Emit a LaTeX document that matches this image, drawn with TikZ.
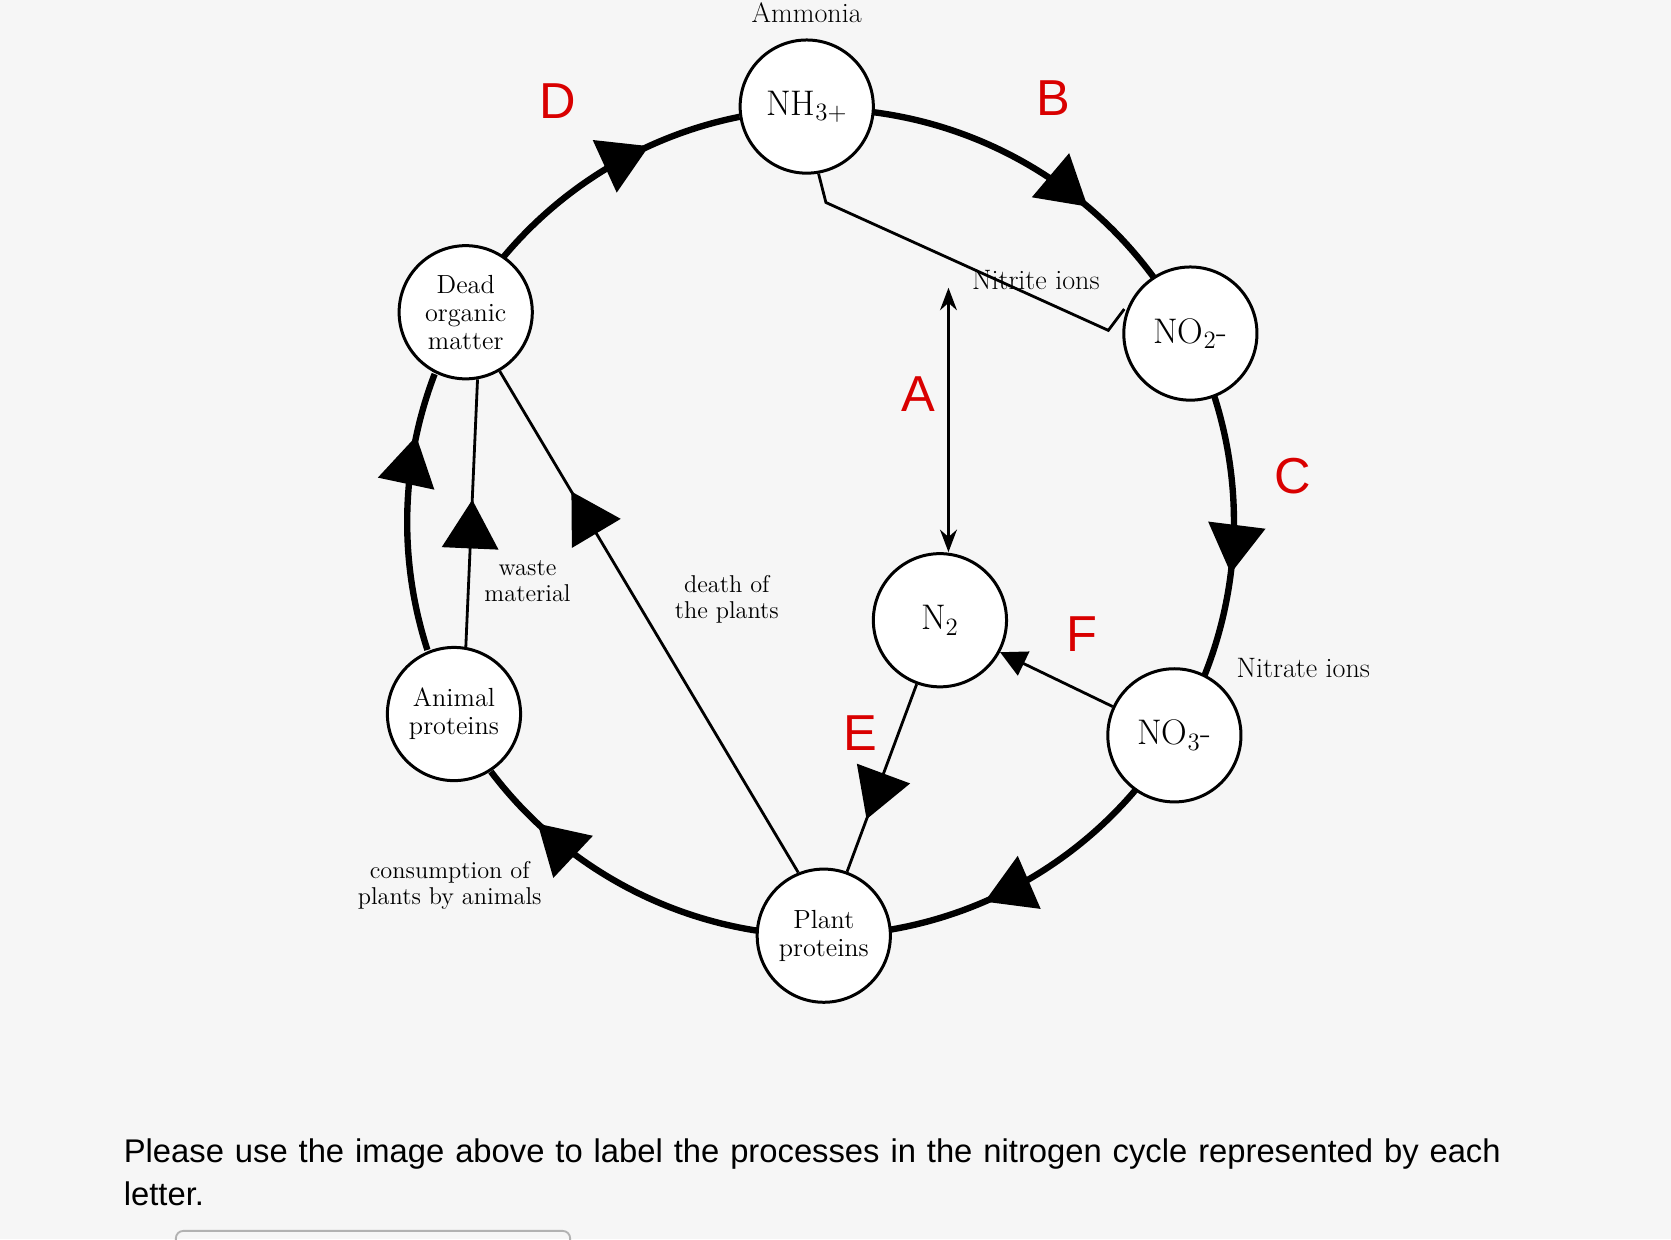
\documentclass[tikz,border=0pt]{standalone}
\usepackage{fontspec}
\newfontfamily\sansf{Liberation Sans}
\usetikzlibrary{arrows.meta,decorations.markings}
\begin{document}
\begin{tikzpicture}[x=0.02cm,y=0.02cm,
  st/.style={circle,draw,line width=1.6pt,fill=white,minimum size=2.5cm,inner sep=0pt,align=center,font=\fontsize{14}{15}\selectfont},
  big/.style={st,font=\fontsize{19}{20}\selectfont},
  lab/.style={align=center,font=\fontsize{13}{14}\selectfont},
  let/.style={text=red!85!black,font=\sansf\fontsize{27}{28}\selectfont},
  thk/.style={line width=3.4pt},
  thn/.style={line width=1.5pt},
  mk/.style={postaction={decorate},decoration={markings,mark=at position #1 with {\arrow{Triangle[length=26pt,width=30pt]}}}}]
\fill[gray!7] (0,0) rectangle (1568,-1163);
\useasboundingbox (0,0) rectangle (1568,-1163);
\coordinate (C) at (770,-490);
% arcs
\draw[thk,mk=0.71] ([shift={(82.7:7.76cm)}]C) arc (82.7:36.3:7.76cm);
\draw[thk,mk=0.63] ([shift={(17.7:7.76cm)}]C) arc (17.7:-21.7:7.76cm);
\draw[thk,mk=0.66] ([shift={(-40.3:7.76cm)}]C) arc (-40.3:-80.2:7.76cm);
\draw[thk,mk=0.78] ([shift={(-98.8:7.76cm)}]C) arc (-98.8:-142.9:7.76cm);
\draw[thk,mk=0.77] ([shift={(198:7.76cm)}]C) arc (198:159:7.76cm);
\draw[thk,mk=0.77] ([shift={(158.8:7.76cm)}]C) arc (158.8:101.3:7.76cm);
% nodes
\node[big] (nh3) at (757,-100) {NH\textsubscript{3+}};
\node[big] (no2) at (1117,-313) {NO\textsubscript{2}-};
\node[big] (no3) at (1102,-690) {NO\textsubscript{3}-};
\node[st] (plant) at (773,-878) {Plant\\proteins};
\node[st] (animal) at (426,-670) {Animal\\proteins};
\node[st] (dead) at (437,-293) {Dead\\organic\\matter};
\node[big] (n2) at (882,-582) {N\textsubscript{2}};
% straight connectors
\draw[thn,mk=0.55] (animal.80) -- (dead.-80);
\draw[thn,mk=0.76] (plant.112) -- (dead.-60);
\draw[thn,mk=0.72] (n2.-110) -- (plant.70);
\draw[thn,-{Triangle[length=14pt,width=14pt]}] (no3.155) -- (n2.-28);
\coordinate (atop) at (890,-270);
\draw[thn,{Stealth[length=12pt]}-{Stealth[length=12pt]}] (atop) -- (n2.north-|atop);
\coordinate (b1) at (775,-190);
\coordinate (b2) at (1040,-310);
\coordinate (b3) at (1055,-290);
\draw[thn] (nh3.-80) -- (b1) -- (b2) -- (b3);
% labels
\node[lab,font=\fontsize{15}{16}\selectfont] (amm) at (757,-12) {Ammonia};
\node[lab,font=\fontsize{15}{16}\selectfont] (nit) at (972,-263) {Nitrite ions};
\node[lab,font=\fontsize{15}{16}\selectfont] (nat) at (1223,-627) {Nitrate ions};
\node[lab] (waste) at (495,-545) {waste\\material};
\node[lab] (death) at (682,-562) {death of\\the plants};
\node[lab] (cons) at (422,-831) {consumption of\\plants by animals};
\node[let] (D) at (523,-95) {D};
\node[let] (B) at (988,-92) {B};
\node[let] (A) at (862,-370) {A};
\node[let] (Cl) at (1213,-447) {C};
\node[let] (F) at (1015,-595) {F};
\node[let] (E) at (807,-688) {E};
\node[anchor=north west,align=left,font=\sansf\fontsize{17.5}{23}\selectfont,text width=27.5cm] (q) at (110,-1062) {\hyphenpenalty=10000 Please use the image above to label the processes in the nitrogen cycle represented by each\\letter.};
\draw[gray!60,line width=1pt,rounded corners=4pt] (165,-1175) -- (165,-1155) -- (535,-1155) -- (535,-1175);
\end{tikzpicture}
\end{document}
